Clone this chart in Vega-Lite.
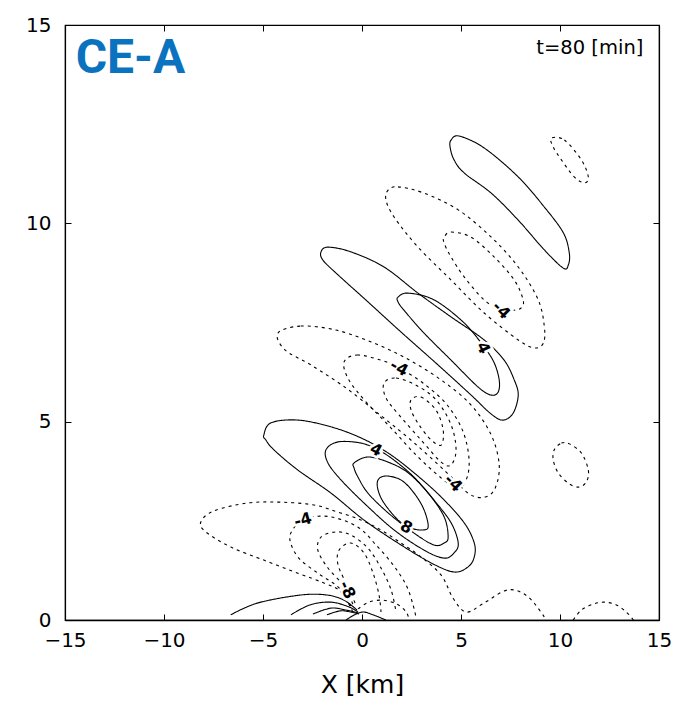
{
"$schema": "https://vega.github.io/schema/vega-lite/v6.json",
"autosize": "none",
"width": 594, "height": 595,
"padding": {"left": 65, "top": 25, "right": 20, "bottom": 82},
"config": {"view": {"stroke": "black", "strokeWidth": 1.2}, "font": "DejaVu Sans"},
"datasets": {
"closed": [
{"c":"P1","o":0,"x":4.50,"y":12.10,"s":"pos"},{"c":"P1","o":1,"x":4.91,"y":12.20,"s":"pos"},{"c":"P1","o":2,"x":6.17,"y":11.90,"s":"pos"},{"c":"P1","o":3,"x":7.89,"y":11.17,"s":"pos"},{"c":"P1","o":4,"x":9.21,"y":10.41,"s":"pos"},{"c":"P1","o":5,"x":10.17,"y":9.76,"s":"pos"},{"c":"P1","o":6,"x":10.47,"y":9.25,"s":"pos"},{"c":"P1","o":7,"x":10.42,"y":8.95,"s":"pos"},{"c":"P1","o":8,"x":10.17,"y":8.87,"s":"pos"},{"c":"P1","o":9,"x":9.21,"y":9.33,"s":"pos"},{"c":"P1","o":10,"x":7.89,"y":10.08,"s":"pos"},{"c":"P1","o":11,"x":6.53,"y":10.76,"s":"pos"},{"c":"P1","o":12,"x":5.16,"y":11.27,"s":"pos"},{"c":"P1","o":13,"x":4.65,"y":11.60,"s":"pos"},{"c":"P1","o":14,"x":4.45,"y":11.92,"s":"pos"},
{"c":"P2","o":0,"x":-2.07,"y":9.28,"s":"pos"},{"c":"P2","o":1,"x":-1.72,"y":9.40,"s":"pos"},{"c":"P2","o":2,"x":-0.56,"y":9.28,"s":"pos"},{"c":"P2","o":3,"x":1.11,"y":8.90,"s":"pos"},{"c":"P2","o":4,"x":2.83,"y":8.24,"s":"pos"},{"c":"P2","o":5,"x":4.50,"y":7.64,"s":"pos"},{"c":"P2","o":6,"x":6.17,"y":7.06,"s":"pos"},{"c":"P2","o":7,"x":7.18,"y":6.55,"s":"pos"},{"c":"P2","o":8,"x":7.69,"y":6.05,"s":"pos"},{"c":"P2","o":9,"x":7.89,"y":5.67,"s":"pos"},{"c":"P2","o":10,"x":7.64,"y":5.22,"s":"pos"},{"c":"P2","o":11,"x":7.13,"y":5.04,"s":"pos"},{"c":"P2","o":12,"x":6.53,"y":5.19,"s":"pos"},{"c":"P2","o":13,"x":5.51,"y":5.67,"s":"pos"},{"c":"P2","o":14,"x":3.84,"y":6.43,"s":"pos"},{"c":"P2","o":15,"x":1.97,"y":7.26,"s":"pos"},{"c":"P2","o":16,"x":0.30,"y":8.02,"s":"pos"},{"c":"P2","o":17,"x":-1.21,"y":8.70,"s":"pos"},{"c":"P2","o":18,"x":-1.97,"y":9.07,"s":"pos"},
{"c":"P3","o":0,"x":1.82,"y":8.14,"s":"pos"},{"c":"P3","o":1,"x":2.33,"y":8.24,"s":"pos"},{"c":"P3","o":2,"x":3.64,"y":8.07,"s":"pos"},{"c":"P3","o":3,"x":5.16,"y":7.49,"s":"pos"},{"c":"P3","o":4,"x":6.17,"y":6.88,"s":"pos"},{"c":"P3","o":5,"x":6.68,"y":6.48,"s":"pos"},{"c":"P3","o":6,"x":6.93,"y":6.05,"s":"pos"},{"c":"P3","o":7,"x":6.88,"y":5.75,"s":"pos"},{"c":"P3","o":8,"x":6.53,"y":5.67,"s":"pos"},{"c":"P3","o":9,"x":5.87,"y":5.87,"s":"pos"},{"c":"P3","o":10,"x":4.50,"y":6.55,"s":"pos"},{"c":"P3","o":11,"x":3.14,"y":7.23,"s":"pos"},{"c":"P3","o":12,"x":2.12,"y":7.81,"s":"pos"},{"c":"P3","o":13,"x":1.82,"y":8.02,"s":"pos"},
{"c":"P4","o":0,"x":-4.96,"y":4.66,"s":"pos"},{"c":"P4","o":1,"x":-4.60,"y":4.97,"s":"pos"},{"c":"P4","o":2,"x":-3.24,"y":5.04,"s":"pos"},{"c":"P4","o":3,"x":-1.57,"y":4.87,"s":"pos"},{"c":"P4","o":4,"x":-0.05,"y":4.59,"s":"pos"},{"c":"P4","o":5,"x":1.32,"y":4.21,"s":"pos"},{"c":"P4","o":6,"x":2.63,"y":3.71,"s":"pos"},{"c":"P4","o":7,"x":4.00,"y":3.10,"s":"pos"},{"c":"P4","o":8,"x":5.16,"y":2.45,"s":"pos"},{"c":"P4","o":9,"x":5.67,"y":1.94,"s":"pos"},{"c":"P4","o":10,"x":5.67,"y":1.59,"s":"pos"},{"c":"P4","o":11,"x":5.36,"y":1.34,"s":"pos"},{"c":"P4","o":12,"x":4.65,"y":1.21,"s":"pos"},{"c":"P4","o":13,"x":3.49,"y":1.44,"s":"pos"},{"c":"P4","o":14,"x":1.82,"y":1.94,"s":"pos"},{"c":"P4","o":15,"x":0.10,"y":2.52,"s":"pos"},{"c":"P4","o":16,"x":-1.57,"y":3.20,"s":"pos"},{"c":"P4","o":17,"x":-3.24,"y":3.78,"s":"pos"},{"c":"P4","o":18,"x":-4.45,"y":4.29,"s":"pos"},{"c":"P4","o":19,"x":-4.86,"y":4.54,"s":"pos"},
{"c":"P5","o":0,"x":-1.82,"y":4.29,"s":"pos"},{"c":"P5","o":1,"x":-1.21,"y":4.49,"s":"pos"},{"c":"P5","o":2,"x":-0.05,"y":4.46,"s":"pos"},{"c":"P5","o":3,"x":0.81,"y":4.29,"s":"pos"},{"c":"P5","o":4,"x":1.62,"y":4.03,"s":"pos"},{"c":"P5","o":5,"x":2.63,"y":3.60,"s":"pos"},{"c":"P5","o":6,"x":3.64,"y":3.02,"s":"pos"},{"c":"P5","o":7,"x":4.50,"y":2.45,"s":"pos"},{"c":"P5","o":8,"x":4.86,"y":1.94,"s":"pos"},{"c":"P5","o":9,"x":4.65,"y":1.69,"s":"pos"},{"c":"P5","o":10,"x":4.15,"y":1.56,"s":"pos"},{"c":"P5","o":11,"x":3.14,"y":1.76,"s":"pos"},{"c":"P5","o":12,"x":1.62,"y":2.27,"s":"pos"},{"c":"P5","o":13,"x":0.10,"y":2.95,"s":"pos"},{"c":"P5","o":14,"x":-1.06,"y":3.53,"s":"pos"},{"c":"P5","o":15,"x":-1.72,"y":3.96,"s":"pos"},
{"c":"P6","o":0,"x":-0.40,"y":3.96,"s":"pos"},{"c":"P6","o":1,"x":0.30,"y":4.11,"s":"pos"},{"c":"P6","o":2,"x":1.32,"y":3.98,"s":"pos"},{"c":"P6","o":3,"x":2.33,"y":3.71,"s":"pos"},{"c":"P6","o":4,"x":3.34,"y":3.20,"s":"pos"},{"c":"P6","o":5,"x":4.15,"y":2.60,"s":"pos"},{"c":"P6","o":6,"x":4.35,"y":2.09,"s":"pos"},{"c":"P6","o":7,"x":4.15,"y":1.94,"s":"pos"},{"c":"P6","o":8,"x":3.64,"y":1.89,"s":"pos"},{"c":"P6","o":9,"x":2.63,"y":2.19,"s":"pos"},{"c":"P6","o":10,"x":1.32,"y":2.70,"s":"pos"},{"c":"P6","o":11,"x":0.30,"y":3.20,"s":"pos"},{"c":"P6","o":12,"x":-0.20,"y":3.60,"s":"pos"},{"c":"P6","o":13,"x":-0.40,"y":3.83,"s":"pos"},
{"c":"P7","o":0,"x":0.81,"y":3.53,"s":"pos"},{"c":"P7","o":1,"x":1.21,"y":3.63,"s":"pos"},{"c":"P7","o":2,"x":1.97,"y":3.53,"s":"pos"},{"c":"P7","o":3,"x":2.63,"y":3.20,"s":"pos"},{"c":"P7","o":4,"x":3.14,"y":2.77,"s":"pos"},{"c":"P7","o":5,"x":3.34,"y":2.34,"s":"pos"},{"c":"P7","o":6,"x":2.98,"y":2.27,"s":"pos"},{"c":"P7","o":7,"x":2.48,"y":2.32,"s":"pos"},{"c":"P7","o":8,"x":1.82,"y":2.52,"s":"pos"},{"c":"P7","o":9,"x":1.11,"y":2.95,"s":"pos"},{"c":"P7","o":10,"x":0.81,"y":3.28,"s":"pos"},
{"c":"N1","o":0,"x":9.56,"y":12.15,"s":"neg"},{"c":"N1","o":1,"x":10.22,"y":12.10,"s":"neg"},{"c":"N1","o":2,"x":11.08,"y":11.60,"s":"neg"},{"c":"N1","o":3,"x":11.43,"y":11.17,"s":"neg"},{"c":"N1","o":4,"x":11.23,"y":11.02,"s":"neg"},{"c":"N1","o":5,"x":10.72,"y":11.17,"s":"neg"},{"c":"N1","o":6,"x":10.07,"y":11.60,"s":"neg"},{"c":"N1","o":7,"x":9.66,"y":11.92,"s":"neg"},
{"c":"N2","o":0,"x":1.32,"y":10.84,"s":"neg"},{"c":"N2","o":1,"x":1.82,"y":10.92,"s":"neg"},{"c":"N2","o":2,"x":3.14,"y":10.76,"s":"neg"},{"c":"N2","o":3,"x":4.86,"y":10.34,"s":"neg"},{"c":"N2","o":4,"x":6.53,"y":9.65,"s":"neg"},{"c":"N2","o":5,"x":7.89,"y":8.90,"s":"neg"},{"c":"N2","o":6,"x":8.90,"y":8.07,"s":"neg"},{"c":"N2","o":7,"x":9.21,"y":7.39,"s":"neg"},{"c":"N2","o":8,"x":9.16,"y":6.98,"s":"neg"},{"c":"N2","o":9,"x":8.70,"y":6.86,"s":"neg"},{"c":"N2","o":10,"x":7.89,"y":7.06,"s":"neg"},{"c":"N2","o":11,"x":6.17,"y":7.74,"s":"neg"},{"c":"N2","o":12,"x":4.50,"y":8.57,"s":"neg"},{"c":"N2","o":13,"x":2.83,"y":9.40,"s":"neg"},{"c":"N2","o":14,"x":1.62,"y":10.16,"s":"neg"},{"c":"N2","o":15,"x":1.21,"y":10.59,"s":"neg"},
{"c":"N3","o":0,"x":4.15,"y":9.65,"s":"neg"},{"c":"N3","o":1,"x":4.50,"y":9.78,"s":"neg"},{"c":"N3","o":2,"x":5.51,"y":9.65,"s":"neg"},{"c":"N3","o":3,"x":6.68,"y":9.15,"s":"neg"},{"c":"N3","o":4,"x":7.69,"y":8.57,"s":"neg"},{"c":"N3","o":5,"x":8.14,"y":8.07,"s":"neg"},{"c":"N3","o":6,"x":8.04,"y":7.87,"s":"neg"},{"c":"N3","o":7,"x":7.69,"y":7.81,"s":"neg"},{"c":"N3","o":8,"x":7.03,"y":7.81,"s":"neg"},{"c":"N3","o":9,"x":6.17,"y":8.07,"s":"neg"},{"c":"N3","o":10,"x":5.16,"y":8.65,"s":"neg"},{"c":"N3","o":11,"x":4.50,"y":9.15,"s":"neg"},{"c":"N3","o":12,"x":4.15,"y":9.50,"s":"neg"},
{"c":"N4","o":0,"x":-4.25,"y":7.23,"s":"neg"},{"c":"N4","o":1,"x":-3.09,"y":7.41,"s":"neg"},{"c":"N4","o":2,"x":-1.32,"y":7.31,"s":"neg"},{"c":"N4","o":3,"x":0.46,"y":7.01,"s":"neg"},{"c":"N4","o":4,"x":2.23,"y":6.60,"s":"neg"},{"c":"N4","o":5,"x":4.00,"y":6.05,"s":"neg"},{"c":"N4","o":6,"x":5.51,"y":5.42,"s":"neg"},{"c":"N4","o":7,"x":6.53,"y":4.66,"s":"neg"},{"c":"N4","o":8,"x":6.93,"y":3.91,"s":"neg"},{"c":"N4","o":9,"x":6.73,"y":3.33,"s":"neg"},{"c":"N4","o":10,"x":6.22,"y":3.10,"s":"neg"},{"c":"N4","o":11,"x":5.41,"y":3.18,"s":"neg"},{"c":"N4","o":12,"x":4.25,"y":3.73,"s":"neg"},{"c":"N4","o":13,"x":2.58,"y":4.49,"s":"neg"},{"c":"N4","o":14,"x":0.86,"y":5.19,"s":"neg"},{"c":"N4","o":15,"x":-0.81,"y":5.85,"s":"neg"},{"c":"N4","o":16,"x":-2.58,"y":6.43,"s":"neg"},{"c":"N4","o":17,"x":-3.89,"y":6.81,"s":"neg"},
{"c":"N5","o":0,"x":-0.91,"y":6.50,"s":"neg"},{"c":"N5","o":1,"x":-0.25,"y":6.68,"s":"neg"},{"c":"N5","o":2,"x":0.96,"y":6.55,"s":"neg"},{"c":"N5","o":3,"x":1.87,"y":6.35,"s":"neg"},{"c":"N5","o":4,"x":3.09,"y":5.97,"s":"neg"},{"c":"N5","o":5,"x":4.30,"y":5.42,"s":"neg"},{"c":"N5","o":6,"x":5.11,"y":4.74,"s":"neg"},{"c":"N5","o":7,"x":5.41,"y":4.03,"s":"neg"},{"c":"N5","o":8,"x":5.26,"y":3.53,"s":"neg"},{"c":"N5","o":9,"x":4.81,"y":3.33,"s":"neg"},{"c":"N5","o":10,"x":4.00,"y":3.58,"s":"neg"},{"c":"N5","o":11,"x":2.73,"y":4.16,"s":"neg"},{"c":"N5","o":12,"x":1.47,"y":4.84,"s":"neg"},{"c":"N5","o":13,"x":0.20,"y":5.50,"s":"neg"},{"c":"N5","o":14,"x":-0.66,"y":6.05,"s":"neg"},
{"c":"N6","o":0,"x":1.11,"y":5.97,"s":"neg"},{"c":"N6","o":1,"x":1.72,"y":6.10,"s":"neg"},{"c":"N6","o":2,"x":2.73,"y":5.92,"s":"neg"},{"c":"N6","o":3,"x":3.74,"y":5.55,"s":"neg"},{"c":"N6","o":4,"x":4.50,"y":4.92,"s":"neg"},{"c":"N6","o":5,"x":4.75,"y":4.29,"s":"neg"},{"c":"N6","o":6,"x":4.50,"y":3.91,"s":"neg"},{"c":"N6","o":7,"x":4.00,"y":3.98,"s":"neg"},{"c":"N6","o":8,"x":2.98,"y":4.54,"s":"neg"},{"c":"N6","o":9,"x":1.87,"y":5.17,"s":"neg"},{"c":"N6","o":10,"x":1.21,"y":5.60,"s":"neg"},
{"c":"N7","o":0,"x":2.48,"y":5.55,"s":"neg"},{"c":"N7","o":1,"x":2.98,"y":5.62,"s":"neg"},{"c":"N7","o":2,"x":3.74,"y":5.29,"s":"neg"},{"c":"N7","o":3,"x":4.10,"y":4.79,"s":"neg"},{"c":"N7","o":4,"x":4.00,"y":4.41,"s":"neg"},{"c":"N7","o":5,"x":3.49,"y":4.54,"s":"neg"},{"c":"N7","o":6,"x":2.88,"y":4.92,"s":"neg"},{"c":"N7","o":7,"x":2.48,"y":5.29,"s":"neg"},
{"c":"N12","o":0,"x":9.71,"y":4.29,"s":"neg"},{"c":"N12","o":1,"x":10.07,"y":4.46,"s":"neg"},{"c":"N12","o":2,"x":10.47,"y":4.44,"s":"neg"},{"c":"N12","o":3,"x":11.08,"y":4.21,"s":"neg"},{"c":"N12","o":4,"x":11.43,"y":3.78,"s":"neg"},{"c":"N12","o":5,"x":11.33,"y":3.48,"s":"neg"},{"c":"N12","o":6,"x":10.93,"y":3.35,"s":"neg"},{"c":"N12","o":7,"x":10.42,"y":3.45,"s":"neg"},{"c":"N12","o":8,"x":9.91,"y":3.71,"s":"neg"},{"c":"N12","o":9,"x":9.66,"y":4.03,"s":"neg"}
],
"open": [
{"c":"N8","o":0,"x":-0.46,"y":0.20,"s":"neg"},{"c":"N8","o":1,"x":-1.06,"y":0.71,"s":"neg"},{"c":"N8","o":2,"x":-1.92,"y":0.93,"s":"neg"},{"c":"N8","o":3,"x":-3.24,"y":1.18,"s":"neg"},{"c":"N8","o":4,"x":-4.96,"y":1.51,"s":"neg"},{"c":"N8","o":5,"x":-6.63,"y":1.84,"s":"neg"},{"c":"N8","o":6,"x":-7.89,"y":2.22,"s":"neg"},{"c":"N8","o":7,"x":-8.14,"y":2.47,"s":"neg"},{"c":"N8","o":8,"x":-7.49,"y":2.75,"s":"neg"},{"c":"N8","o":9,"x":-5.77,"y":2.95,"s":"neg"},{"c":"N8","o":10,"x":-4.10,"y":2.97,"s":"neg"},{"c":"N8","o":11,"x":-2.43,"y":2.90,"s":"neg"},{"c":"N8","o":12,"x":-1.21,"y":2.72,"s":"neg"},{"c":"N8","o":13,"x":-0.05,"y":2.52,"s":"neg"},{"c":"N8","o":14,"x":0.96,"y":2.27,"s":"neg"},{"c":"N8","o":15,"x":1.97,"y":1.94,"s":"neg"},{"c":"N8","o":16,"x":2.98,"y":1.59,"s":"neg"},{"c":"N8","o":17,"x":4.00,"y":1.13,"s":"neg"},{"c":"N8","o":18,"x":4.60,"y":0.55,"s":"neg"},{"c":"N8","o":19,"x":5.26,"y":0.20,"s":"neg"},{"c":"N8","o":20,"x":6.17,"y":0.43,"s":"neg"},{"c":"N8","o":21,"x":7.38,"y":0.76,"s":"neg"},{"c":"N8","o":22,"x":8.40,"y":0.58,"s":"neg"},{"c":"N8","o":23,"x":9.31,"y":0.00,"s":"neg"},
{"c":"N9","o":0,"x":-0.56,"y":0.35,"s":"neg"},{"c":"N9","o":1,"x":-1.16,"y":0.81,"s":"neg"},{"c":"N9","o":2,"x":-2.17,"y":1.16,"s":"neg"},{"c":"N9","o":3,"x":-3.19,"y":1.56,"s":"neg"},{"c":"N9","o":4,"x":-3.64,"y":2.02,"s":"neg"},{"c":"N9","o":5,"x":-3.44,"y":2.32,"s":"neg"},{"c":"N9","o":6,"x":-2.83,"y":2.57,"s":"neg"},{"c":"N9","o":7,"x":-1.57,"y":2.60,"s":"neg"},{"c":"N9","o":8,"x":-0.20,"y":2.34,"s":"neg"},{"c":"N9","o":9,"x":0.71,"y":1.89,"s":"neg"},{"c":"N9","o":10,"x":1.57,"y":1.39,"s":"neg"},{"c":"N9","o":11,"x":2.23,"y":0.88,"s":"neg"},{"c":"N9","o":12,"x":2.58,"y":0.38,"s":"neg"},{"c":"N9","o":13,"x":2.73,"y":0.05,"s":"neg"},
{"c":"N10","o":0,"x":-0.46,"y":0.40,"s":"neg"},{"c":"N10","o":1,"x":-0.96,"y":0.88,"s":"neg"},{"c":"N10","o":2,"x":-1.72,"y":1.31,"s":"neg"},{"c":"N10","o":3,"x":-2.23,"y":1.76,"s":"neg"},{"c":"N10","o":4,"x":-2.07,"y":2.09,"s":"neg"},{"c":"N10","o":5,"x":-1.32,"y":2.22,"s":"neg"},{"c":"N10","o":6,"x":-0.56,"y":2.14,"s":"neg"},{"c":"N10","o":7,"x":0.30,"y":1.81,"s":"neg"},{"c":"N10","o":8,"x":0.96,"y":1.31,"s":"neg"},{"c":"N10","o":9,"x":1.47,"y":0.76,"s":"neg"},{"c":"N10","o":10,"x":1.72,"y":0.20,"s":"neg"},
{"c":"N11","o":0,"x":-0.35,"y":0.43,"s":"neg"},{"c":"N11","o":1,"x":-0.76,"y":0.88,"s":"neg"},{"c":"N11","o":2,"x":-1.21,"y":1.39,"s":"neg"},{"c":"N11","o":3,"x":-1.16,"y":1.76,"s":"neg"},{"c":"N11","o":4,"x":-0.56,"y":1.94,"s":"neg"},{"c":"N11","o":5,"x":0.10,"y":1.69,"s":"neg"},{"c":"N11","o":6,"x":0.56,"y":1.18,"s":"neg"},{"c":"N11","o":7,"x":0.86,"y":0.63,"s":"neg"},{"c":"N11","o":8,"x":0.96,"y":0.20,"s":"neg"},
{"c":"N13","o":0,"x":-0.20,"y":0.28,"s":"neg"},{"c":"N13","o":1,"x":0.35,"y":0.45,"s":"neg"},{"c":"N13","o":2,"x":1.06,"y":0.50,"s":"neg"},{"c":"N13","o":3,"x":1.77,"y":0.40,"s":"neg"},{"c":"N13","o":4,"x":2.23,"y":0.20,"s":"neg"},{"c":"N13","o":5,"x":2.38,"y":0.00,"s":"neg"},
{"c":"A2","o":0,"x":10.67,"y":0.00,"s":"neg"},{"c":"A2","o":1,"x":11.08,"y":0.25,"s":"neg"},{"c":"A2","o":2,"x":11.68,"y":0.40,"s":"neg"},{"c":"A2","o":3,"x":12.24,"y":0.45,"s":"neg"},{"c":"A2","o":4,"x":12.85,"y":0.38,"s":"neg"},{"c":"A2","o":5,"x":13.35,"y":0.20,"s":"neg"},{"c":"A2","o":6,"x":13.71,"y":0.00,"s":"neg"},
{"c":"S1","o":0,"x":-6.63,"y":0.13,"s":"pos"},{"c":"S1","o":1,"x":-5.26,"y":0.43,"s":"pos"},{"c":"S1","o":2,"x":-3.09,"y":0.63,"s":"pos"},{"c":"S1","o":3,"x":-1.77,"y":0.63,"s":"pos"},{"c":"S1","o":4,"x":-0.91,"y":0.50,"s":"pos"},{"c":"S1","o":5,"x":-0.25,"y":0.25,"s":"pos"},
{"c":"S2","o":0,"x":-3.59,"y":0.13,"s":"pos"},{"c":"S2","o":1,"x":-2.63,"y":0.38,"s":"pos"},{"c":"S2","o":2,"x":-1.57,"y":0.45,"s":"pos"},{"c":"S2","o":3,"x":-0.66,"y":0.33,"s":"pos"},{"c":"S2","o":4,"x":-0.20,"y":0.20,"s":"pos"},
{"c":"S3","o":0,"x":-2.48,"y":0.15,"s":"pos"},{"c":"S3","o":1,"x":-1.57,"y":0.30,"s":"pos"},{"c":"S3","o":2,"x":-0.81,"y":0.25,"s":"pos"},{"c":"S3","o":3,"x":-0.20,"y":0.18,"s":"pos"},
{"c":"S4","o":0,"x":-1.77,"y":0.13,"s":"pos"},{"c":"S4","o":1,"x":-1.11,"y":0.23,"s":"pos"},{"c":"S4","o":2,"x":-0.56,"y":0.20,"s":"pos"},{"c":"S4","o":3,"x":-0.15,"y":0.15,"s":"pos"},
{"c":"S5","o":0,"x":-0.81,"y":0.00,"s":"pos"},{"c":"S5","o":1,"x":-0.30,"y":0.15,"s":"pos"},{"c":"S5","o":2,"x":0.10,"y":0.20,"s":"pos"},{"c":"S5","o":3,"x":0.56,"y":0.13,"s":"pos"},{"c":"S5","o":4,"x":1.21,"y":0.00,"s":"pos"}
]
},
"layer": [
{"data": {"name": "closed"},
 "mark": {"type": "line", "interpolate": "cardinal-closed", "strokeWidth": 1.1, "color": "black", "clip": true},
 "encoding": {
  "x": {"field": "x", "type": "quantitative", "scale": {"domain": [-15, 15], "nice": false, "zero": false},
        "axis": {"orient": "bottom", "values": [-15, -10, -5, 0, 5, 10, 15], "title": "X [km]", "titleFont": "DejaVu Sans", "titleFontSize": 25, "titleFontWeight": "normal", "titleColor": "black", "titlePadding": 22, "labelFont": "DejaVu Sans", "labelFontSize": 20, "labelColor": "black", "labelPadding": 16, "labelFlush": false, "labelOverlap": false, "tickSize": -6, "tickColor": "black", "domainColor": "black", "domainWidth": 1.6, "grid": false}},
  "y": {"field": "y", "type": "quantitative", "scale": {"domain": [0, 15], "nice": false, "zero": false},
        "axis": {"orient": "left", "values": [0, 5, 10, 15], "title": null, "labelFont": "DejaVu Sans", "labelFontSize": 20, "labelColor": "black", "labelPadding": 20, "labelFlush": false, "labelOverlap": false, "tickSize": -6, "tickColor": "black", "domainColor": "black", "domainWidth": 1.2, "grid": false}},
  "detail": {"field": "c"},
  "order": {"field": "o", "type": "quantitative"},
  "strokeDash": {"field": "s", "type": "nominal", "scale": {"domain": ["pos", "neg"], "range": [[1, 0], [3, 4]]}, "legend": null}
 }},
{"data": {"name": "open"},
 "mark": {"type": "line", "interpolate": "cardinal", "strokeWidth": 1.1, "color": "black", "clip": true},
 "encoding": {
  "x": {"field": "x", "type": "quantitative", "axis": null},
  "y": {"field": "y", "type": "quantitative", "axis": null},
  "detail": {"field": "c"},
  "order": {"field": "o", "type": "quantitative"},
  "strokeDash": {"field": "s", "type": "nominal", "scale": {"domain": ["pos", "neg"], "range": [[1, 0], [3, 4]]}, "legend": null}
 }},
{"data": {"values": [{"x": 0, "y": 0}]},
 "mark": {"type": "point", "opacity": 0},
 "encoding": {
  "x": {"field": "x", "type": "quantitative", "axis": {"orient": "top", "values": [-10, -5, 0, 5, 10], "labels": false, "title": null, "tickSize": -6, "tickColor": "black", "domainColor": "black", "domainWidth": 1.2, "grid": false}},
  "y": {"field": "y", "type": "quantitative", "axis": {"orient": "right", "values": [5, 10], "labels": false, "title": null, "tickSize": -6, "tickColor": "black", "domainColor": "black", "domainWidth": 1.2, "grid": false}}
 }},
{"data": {"values": [{"x": 7.03, "y": 7.81, "t": "-4"}, {"x": 4.60, "y": 3.45, "t": "-4"}]},
 "encoding": {"x": {"field": "x", "type": "quantitative", "axis": null}, "y": {"field": "y", "type": "quantitative", "axis": null}, "text": {"field": "t"}},
 "layer": [
  {"mark": {"type": "text", "angle": 45, "font": "DejaVu Sans", "fontSize": 16, "fontWeight": "bold", "stroke": "white", "strokeWidth": 5, "fill": "white"}},
  {"mark": {"type": "text", "angle": 45, "font": "DejaVu Sans", "fontSize": 16, "fontWeight": "bold", "fill": "black"}}
 ]},
{"data": {"values": [{"x": 6.12, "y": 6.86, "t": "4"}, {"x": -0.76, "y": 0.76, "t": "-8"}]},
 "encoding": {"x": {"field": "x", "type": "quantitative", "axis": null}, "y": {"field": "y", "type": "quantitative", "axis": null}, "text": {"field": "t"}},
 "layer": [
  {"mark": {"type": "text", "angle": 65, "font": "DejaVu Sans", "fontSize": 16, "fontWeight": "bold", "stroke": "white", "strokeWidth": 5, "fill": "white"}},
  {"mark": {"type": "text", "angle": 65, "font": "DejaVu Sans", "fontSize": 16, "fontWeight": "bold", "fill": "black"}}
 ]},
{"data": {"values": [{"x": 1.87, "y": 6.35, "t": "-4"}, {"x": 0.71, "y": 4.29, "t": "4"}, {"x": 2.23, "y": 2.34, "t": "8"}]},
 "encoding": {"x": {"field": "x", "type": "quantitative", "axis": null}, "y": {"field": "y", "type": "quantitative", "axis": null}, "text": {"field": "t"}},
 "layer": [
  {"mark": {"type": "text", "angle": 28, "font": "DejaVu Sans", "fontSize": 16, "fontWeight": "bold", "stroke": "white", "strokeWidth": 5, "fill": "white"}},
  {"mark": {"type": "text", "angle": 28, "font": "DejaVu Sans", "fontSize": 16, "fontWeight": "bold", "fill": "black"}}
 ]},
{"data": {"values": [{"x": -2.98, "y": 2.52, "t": "-4"}]},
 "encoding": {"x": {"field": "x", "type": "quantitative", "axis": null}, "y": {"field": "y", "type": "quantitative", "axis": null}, "text": {"field": "t"}},
 "layer": [
  {"mark": {"type": "text", "angle": -15, "font": "DejaVu Sans", "fontSize": 16, "fontWeight": "bold", "stroke": "white", "strokeWidth": 5, "fill": "white"}},
  {"mark": {"type": "text", "angle": -15, "font": "DejaVu Sans", "fontSize": 16, "fontWeight": "bold", "fill": "black"}}
 ]},
{"data": {"values": [{"x": -14.46, "y": 13.79, "t": "CE-A"}]},
 "mark": {"type": "text", "align": "left", "baseline": "alphabetic", "font": "Roboto", "fontSize": 48, "fontWeight": "bold", "fill": "#0A72BE"},
 "encoding": {"x": {"field": "x", "type": "quantitative", "axis": null}, "y": {"field": "y", "type": "quantitative", "axis": null}, "text": {"field": "t"}}},
{"data": {"values": [{"x": 14.21, "y": 14.27, "t": "t=80 [min]"}]},
 "mark": {"type": "text", "align": "right", "baseline": "alphabetic", "font": "DejaVu Sans", "fontSize": 19.5, "fill": "black"},
 "encoding": {"x": {"field": "x", "type": "quantitative", "axis": null}, "y": {"field": "y", "type": "quantitative", "axis": null}, "text": {"field": "t"}}}
],
"resolve": {"axis": {"x": "independent", "y": "independent"}}
}
